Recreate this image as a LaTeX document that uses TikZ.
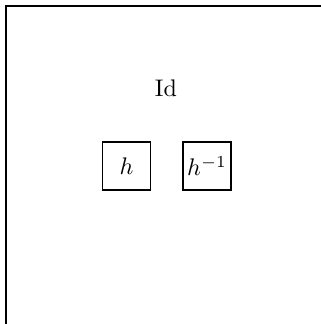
\documentclass[tikz,border=0pt]{standalone}
\begin{document}
\begin{tikzpicture}[x=0.41667pt,y=-0.41667pt,
  framestyle/.style={line width=0.6pt},
  boxstyle/.style={draw,line width=0.6pt,minimum width=20pt,minimum height=20pt,inner sep=1pt}]
\useasboundingbox (0,0) rectangle (321,324);
\clip (0,0) rectangle (321,324);
\coordinate (tl) at (6,6);
\coordinate (tr) at (321,6);
\coordinate (bl) at (6,324);
\draw[framestyle] (tr) -- (tl) -- (bl);
\node (id) at (166,88) {$\mathrm{Id}$};
\node[boxstyle] (h) at (126.5,166) {$h$};
\node[boxstyle] (hinv) at (207,166) {$h^{-1}$};
\end{tikzpicture}
\end{document}
